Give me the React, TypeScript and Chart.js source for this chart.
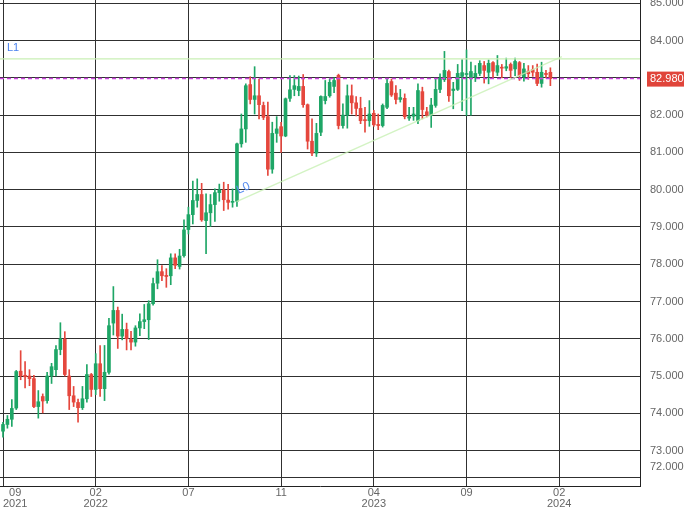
import { useEffect, useRef } from 'react';
import { Chart, registerables } from 'chart.js';

Chart.register(...registerables);

// Weekly candles, bar index 0 = first week of 09/2021
const opens = [
  73.52, 73.70, 73.84, 74.14, 75.13, 75.02, 75.00, 74.93, 74.18, 74.45,
  74.34, 75.00, 75.17, 75.71, 75.99, 75.00, 74.47, 74.29, 74.15, 74.39,
  75.04, 74.64, 75.33, 74.66, 75.10, 76.42, 76.76, 76.07, 76.25, 75.98,
  75.91, 76.29, 76.46, 76.51, 76.94, 77.49, 77.80, 77.70, 77.69, 78.17,
  77.94, 78.23, 78.93, 79.33, 79.71, 79.87, 79.17, 79.38, 79.60, 79.92,
  79.99, 79.72, 79.66, 79.69, 81.23, 81.63, 82.82, 82.42, 82.52, 82.26,
  81.96, 80.55, 81.51, 81.69, 81.44, 82.45, 82.69, 82.66, 82.77, 82.28,
  81.30, 80.98, 81.54, 82.39, 82.52, 82.77, 83.07, 81.72, 82.00, 82.52,
  82.33, 82.18, 81.88, 81.85, 82.05, 81.75, 81.72, 82.21, 82.90, 82.59,
  82.42, 82.45, 81.92, 81.97, 81.85, 82.63, 82.09, 81.99, 82.26, 82.69,
  82.95, 83.17, 82.66, 82.69, 83.04, 83.09, 83.00, 83.03, 83.12, 83.33,
  83.15, 83.41, 83.15, 83.28, 83.26, 83.36, 83.24, 83.41, 83.03, 83.18,
  83.22, 83.15, 82.85, 83.12, 83.15,
];
const highs = [
  73.76, 73.94, 74.37, 75.15, 75.68, 75.39, 75.17, 75.02, 74.61, 74.52,
  75.10, 75.34, 75.82, 76.43, 76.19, 75.17, 74.72, 74.38, 74.72, 75.31,
  75.07, 75.60, 75.82, 75.82, 76.55, 77.40, 76.85, 76.66, 76.42, 76.20,
  76.35, 76.67, 76.92, 77.02, 77.63, 78.12, 77.96, 77.88, 78.28, 78.28,
  78.40, 79.19, 79.53, 80.23, 80.29, 80.17, 79.89, 79.87, 80.02, 80.15,
  80.20, 80.14, 80.02, 81.25, 82.03, 82.84, 83.03, 83.30, 82.97, 82.35,
  82.35, 81.81, 81.96, 81.81, 82.46, 83.06, 83.06, 83.05, 83.09, 82.30,
  81.90, 81.78, 82.52, 82.93, 82.97, 83.00, 83.10, 82.30, 82.81, 82.81,
  82.50, 82.48, 82.21, 82.39, 82.13, 82.03, 82.30, 82.99, 82.97, 82.79,
  82.69, 82.57, 82.21, 82.21, 82.84, 82.75, 82.21, 82.45, 82.97, 83.11,
  83.71, 83.21, 82.88, 83.36, 83.49, 83.75, 83.42, 83.33, 83.46, 83.44,
  83.48, 83.44, 83.60, 83.36, 83.53, 83.40, 83.53, 83.44, 83.39, 83.33,
  83.33, 83.37, 83.42, 83.20, 83.27,
];
const lows = [
  73.36, 73.60, 73.65, 74.10, 74.90, 74.68, 74.74, 74.15, 73.87, 74.01,
  74.27, 74.80, 75.00, 75.57, 75.00, 74.10, 74.18, 73.76, 74.10, 74.30,
  74.45, 74.50, 74.45, 74.34, 75.05, 76.10, 75.74, 75.97, 75.70, 75.70,
  75.80, 76.08, 76.27, 75.98, 76.90, 77.34, 77.56, 77.38, 77.45, 77.88,
  77.87, 78.19, 78.81, 79.08, 79.53, 79.15, 78.28, 79.01, 79.15, 79.69,
  79.44, 79.48, 79.53, 79.55, 81.14, 81.27, 82.30, 82.03, 81.90, 81.88,
  80.38, 80.44, 81.27, 81.00, 81.42, 82.37, 82.52, 82.52, 82.21, 81.09,
  80.91, 80.89, 81.45, 82.30, 82.48, 82.60, 81.63, 81.65, 81.65, 82.03,
  81.98, 81.77, 81.54, 81.70, 81.70, 81.61, 81.68, 82.17, 82.50, 82.30,
  82.35, 81.90, 81.86, 81.86, 81.77, 81.90, 81.95, 81.67, 82.21, 82.60,
  82.90, 82.37, 82.17, 82.66, 82.12, 81.99, 82.00, 82.90, 83.06, 82.86,
  82.84, 83.00, 83.06, 83.00, 83.19, 83.00, 83.06, 82.93, 82.91, 82.96,
  83.04, 82.79, 82.75, 83.00, 82.79,
];
const closes = [
  73.70, 73.84, 74.13, 75.12, 75.01, 74.98, 74.93, 74.18, 74.31, 74.33,
  75.00, 75.25, 75.71, 76.00, 75.04, 74.47, 74.30, 74.15, 74.39, 75.04,
  74.64, 75.33, 74.66, 75.10, 76.35, 76.76, 76.07, 76.25, 76.00, 75.91,
  76.29, 76.46, 76.51, 76.94, 77.48, 77.80, 77.69, 77.67, 78.17, 77.97,
  78.22, 78.92, 79.33, 79.71, 79.87, 79.19, 79.38, 79.60, 79.92, 79.99,
  79.73, 79.66, 79.68, 81.23, 81.63, 82.79, 82.42, 82.52, 82.28, 81.94,
  80.55, 81.51, 81.63, 81.44, 82.44, 82.68, 82.79, 82.77, 82.28, 81.30,
  80.98, 81.51, 82.50, 82.50, 82.88, 82.93, 81.72, 82.00, 82.52, 82.33,
  82.18, 81.85, 81.85, 82.03, 81.74, 81.72, 82.26, 82.85, 82.54, 82.42,
  82.47, 81.96, 81.96, 82.03, 82.66, 82.15, 81.99, 82.27, 82.69, 82.99,
  83.20, 82.52, 82.70, 83.12, 83.14, 83.11, 83.17, 83.12, 83.39, 83.20,
  83.39, 83.18, 83.33, 83.26, 83.30, 83.20, 83.44, 83.06, 83.24, 83.11,
  83.15, 82.85, 83.15, 83.09, 82.98,
];

const xTickBars = [0, 21, 42, 63, 84, 105, 126];
const xTickLabels = [['  09', '2021'], ['02', '2022'], ['07'], ['11'], ['04', '2023'], ['09'], ['02', '2024']];
const yTickValues = [73, 74, 75, 76, 77, 78, 79, 80, 81, 82, 83, 84, 85];
const lowerPaneLine = 72.27;
const resistanceL1 = 83.51;
const trendL0Start = { bar: 52.9, value: 79.68 };
const trendL0End = { bar: 126.6, value: 83.57 };
const lastPrice = 82.98;

const X_MIN = -0.68;
const X_MAX = 144.3;
const Y_MIN = 72.049;
const Y_MAX = 85.089;

const GREEN = '#1ea666';
const RED = '#e5473d';
const FONT = '"Liberation Sans", Arial, sans-serif';

const overlayPlugin = {
  id: 'overlayLabels',
  afterDraw(chart: any) {
    const { ctx, chartArea } = chart;
    const xs = chart.scales.x;
    const ys = chart.scales.y;
    ctx.save();
    ctx.font = `11px ${FONT}`;
    ctx.fillStyle = '#4a82ee';
    ctx.textAlign = 'left';
    ctx.textBaseline = 'middle';
    ctx.fillText('L1', chartArea.left + 7, ys.getPixelForValue(resistanceL1) - 11);

    const x0 = xs.getPixelForValue(trendL0Start.bar);
    const y0 = ys.getPixelForValue(trendL0Start.value);
    const x1 = xs.getPixelForValue(trendL0End.bar);
    const y1 = ys.getPixelForValue(trendL0End.value);
    const ang = Math.atan2(y1 - y0, x1 - x0);
    ctx.save();
    ctx.translate(x0, y0);
    ctx.rotate(ang);
    ctx.font = `12px ${FONT}`;
    ctx.fillStyle = '#5a8ef0';
    ctx.fillText('L0', 5, -9.4);
    ctx.restore();

    const py = ys.getPixelForValue(lastPrice);
    ctx.fillStyle = '#e0443a';
    ctx.fillRect(chartArea.right + 7, py - 7, 37, 15);
    ctx.fillStyle = '#ffffff';
    ctx.fillText(lastPrice.toFixed(3), chartArea.right + 10, py + 0.5);
    ctx.restore();
  },
};

export default function App() {
  const ref = useRef<HTMLCanvasElement | null>(null);

  useEffect(() => {
    if (!ref.current) return;
    const colors = opens.map((o, i) => (closes[i] >= o ? GREEN : RED));
    const chart = new Chart(ref.current, {
      type: 'bar',
      data: {
        datasets: [
          {
            type: 'line',
            data: [
              { x: trendL0Start.bar, y: trendL0Start.value },
              { x: trendL0End.bar, y: trendL0End.value },
            ],
            borderColor: 'rgba(200,240,180,0.8)',
            borderWidth: 1.5,
            pointRadius: 0,
            order: 0,
          } as any,
          {
            type: 'line',
            data: [
              { x: X_MIN, y: lastPrice },
              { x: X_MAX, y: lastPrice },
            ],
            borderColor: '#cc44dd',
            borderWidth: 1.5,
            borderDash: [4, 3],
            pointRadius: 0,
            order: 0,
          } as any,
          {
            type: 'line',
            data: [
              { x: X_MIN, y: resistanceL1 },
              { x: X_MAX, y: resistanceL1 },
            ],
            borderColor: '#c9efb4',
            borderWidth: 1.2,
            pointRadius: 0,
            order: 1,
          } as any,
          {
            type: 'bar',
            data: opens.map((o, i) => ({ x: i, y: [o, closes[i]] })),
            backgroundColor: colors,
            barThickness: 3,
            minBarLength: 1,
            grouped: false,
            order: 2,
          } as any,
          {
            type: 'bar',
            data: highs.map((h, i) => ({ x: i, y: [lows[i], h] })),
            backgroundColor: colors,
            barThickness: 1,
            grouped: false,
            order: 3,
          } as any,
        ],
      },
      options: {
        responsive: false,
        animation: false,
        events: [],
        layout: { padding: 0 },
        plugins: { legend: { display: false }, tooltip: { enabled: false } },
        scales: {
          x: {
            type: 'linear',
            min: X_MIN,
            max: X_MAX,
            offset: false,
            grid: { color: '#303030', lineWidth: 1, drawTicks: false, offset: false },
            border: { color: '#222222', width: 1 },
            ticks: {
              autoSkip: false,
              align: 'inner',
              padding: 1,
              maxRotation: 0,
              color: '#666666',
              font: { family: FONT, size: 11, lineHeight: 1 },
              callback: (v: any) => {
                const idx = xTickBars.indexOf(Number(v));
                return idx >= 0 ? xTickLabels[idx] : '';
              },
            },
            afterBuildTicks: (s: any) => {
              s.ticks = [...xTickBars, X_MAX].map((value) => ({ value }));
            },
            afterFit: (s: any) => {
              s.height = 24;
              s.paddingLeft = 0;
              s.paddingRight = 0;
            },
          } as any,
          y: {
            type: 'linear',
            position: 'right',
            min: Y_MIN,
            max: Y_MAX,
            grid: { color: '#303030', lineWidth: 1, drawTicks: false },
            border: { color: '#222222', width: 1 },
            ticks: {
              autoSkip: false,
              padding: 10,
              color: '#666666',
              font: { family: FONT, size: 11, lineHeight: 1 },
              callback: (v: any) => {
                const n = Number(v);
                if (Math.abs(n - lowerPaneLine) < 0.001) return ['72.000', '', ''];
                if (Math.abs(n - 83) < 0.001) return '';
                return n.toFixed(3);
              },
            },
            afterBuildTicks: (s: any) => {
              s.ticks = [lowerPaneLine, ...yTickValues].map((value) => ({ value }));
            },
            afterFit: (s: any) => {
              s.width = 50;
              s.paddingTop = 0;
              s.paddingBottom = 0;
            },
          } as any,
        },
      },
      plugins: [overlayPlugin],
    });
    return () => chart.destroy();
  }, []);

  return (
    <div style={{ position: 'absolute', left: 0, top: 0, width: 690, height: 510, background: '#fff' }}>
      <canvas ref={ref} width={690} height={510} />
    </div>
  );
}
